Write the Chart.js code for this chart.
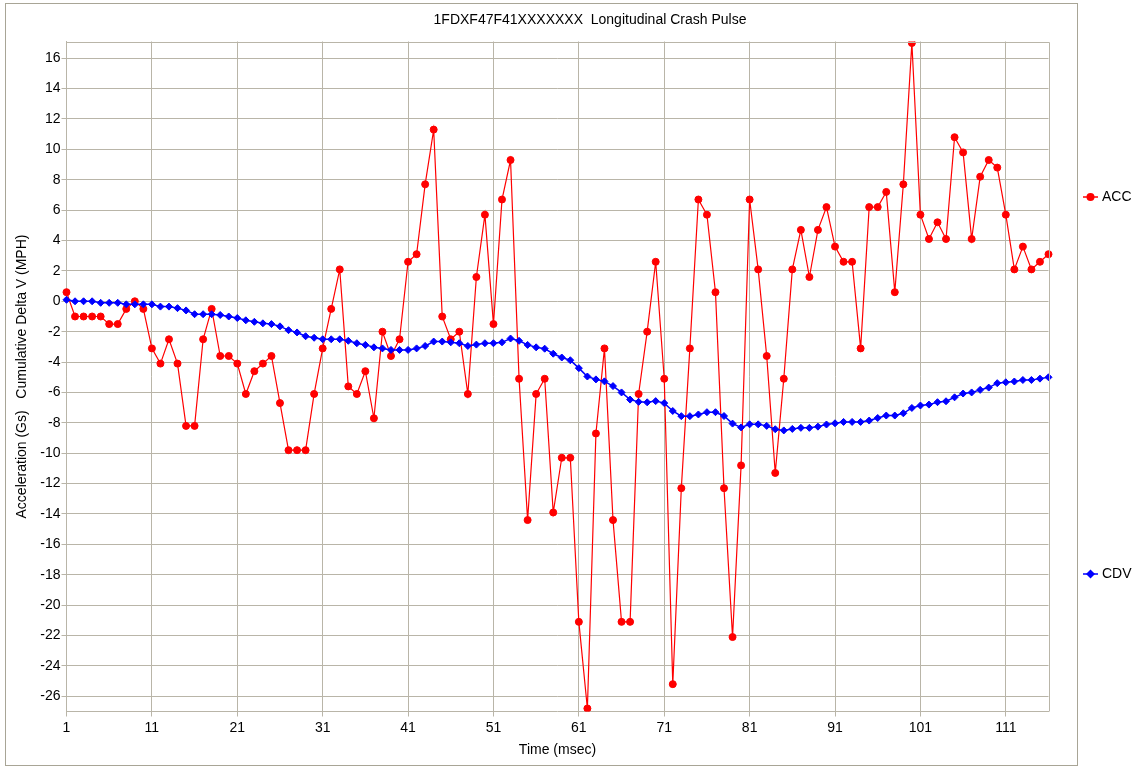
<!DOCTYPE html>
<html>
<head>
<meta charset="utf-8">
<title>Longitudinal Crash Pulse</title>
<script src="https://cdn.jsdelivr.net/npm/chart.js@4.4.1/dist/chart.umd.min.js"></script>
<style>
  html, body { margin: 0; padding: 0; background: #fff; }
  #wrap { width: 1148px; height: 767px; }
</style>
</head>
<body>
<div id="wrap"><canvas id="crash-chart" width="1148" height="767"></canvas></div>
<script>
const chartTitle = '1FDXF47F41XXXXXXX  Longitudinal Crash Pulse';

// time axis (msec)
const times = [
  1, 2, 3, 4, 5, 6, 7, 8, 9, 10, 11, 12, 13, 14, 15, 16, 17, 18, 19, 20,
  21, 22, 23, 24, 25, 26, 27, 28, 29, 30, 31, 32, 33, 34, 35, 36, 37, 38, 39, 40,
  41, 42, 43, 44, 45, 46, 47, 48, 49, 50, 51, 52, 53, 54, 55, 56, 57, 58, 59, 60,
  61, 62, 63, 64, 65, 66, 67, 68, 69, 70, 71, 72, 73, 74, 75, 76, 77, 78, 79, 80,
  81, 82, 83, 84, 85, 86, 87, 88, 89, 90, 91, 92, 93, 94, 95, 96, 97, 98, 99, 100,
  101, 102, 103, 104, 105, 106, 107, 108, 109, 110, 111, 112, 113, 114, 115, 116
];
const xTickLabels = [1, 11, 21, 31, 41, 51, 61, 71, 81, 91, 101, 111];
const yTicks = [-26, -24, -22, -20, -18, -16, -14, -12, -10, -8, -6, -4, -2, 0, 2, 4, 6, 8, 10, 12, 14, 16];

// acceleration (Gs)
const acc = [
  0.6, -1.0, -1.0, -1.0, -1.0, -1.5, -1.5, -0.5, 0.0, -0.5,
  -3.1, -4.1, -2.5, -4.1, -8.2, -8.2, -2.5, -0.5, -3.6, -3.6,
  -4.1, -6.1, -4.6, -4.1, -3.6, -6.7, -9.8, -9.8, -9.8, -6.1,
  -3.1, -0.5, 2.1, -5.6, -6.1, -4.6, -7.7, -2.0, -3.6, -2.5,
  2.6, 3.1, 7.7, 11.3, -1.0, -2.5, -2.0, -6.1, 1.6, 5.7,
  -1.5, 6.7, 9.3, -5.1, -14.4, -6.1, -5.1, -13.9, -10.3, -10.3,
  -21.1, -26.8, -8.7, -3.1, -14.4, -21.1, -21.1, -6.1, -2.0, 2.6,
  -5.1, -25.2, -12.3, -3.1, 6.7, 5.7, 0.6, -12.3, -22.1, -10.8,
  6.7, 2.1, -3.6, -11.3, -5.1, 2.1, 4.7, 1.6, 4.7, 6.2,
  3.6, 2.6, 2.6, -3.1, 6.2, 6.2, 7.2, 0.6, 7.7, 17.0,
  5.7, 4.1, 5.2, 4.1, 10.8, 9.8, 4.1, 8.2, 9.3, 8.8,
  5.7, 2.1, 3.6, 2.1, 2.6, 3.1
];

// cumulative delta V (MPH)
const cdv = [
  0.1, 0.0, 0.0, 0.0, -0.1, -0.1, -0.1, -0.2, -0.2, -0.2,
  -0.2, -0.35, -0.35, -0.45, -0.6, -0.85, -0.85, -0.85, -0.9, -1.0,
  -1.1, -1.25, -1.35, -1.45, -1.5, -1.65, -1.9, -2.05, -2.3, -2.4,
  -2.5, -2.5, -2.5, -2.6, -2.76, -2.87, -3.03, -3.1, -3.2, -3.2,
  -3.2, -3.1, -2.94, -2.65, -2.65, -2.7, -2.76, -2.94, -2.85, -2.76,
  -2.76, -2.7, -2.45, -2.6, -2.87, -3.03, -3.12, -3.45, -3.7, -3.88,
  -4.4, -4.95, -5.14, -5.27, -5.58, -6.0, -6.47, -6.62, -6.65, -6.57,
  -6.7, -7.22, -7.56, -7.56, -7.45, -7.3, -7.3, -7.55, -8.05, -8.3,
  -8.1, -8.1, -8.2, -8.42, -8.5, -8.4, -8.33, -8.33, -8.25, -8.11,
  -8.03, -7.94, -7.94, -7.94, -7.85, -7.68, -7.52, -7.52, -7.37, -7.02,
  -6.86, -6.8, -6.64, -6.58, -6.32, -6.07, -6.0, -5.83, -5.68, -5.39,
  -5.33, -5.28, -5.18, -5.18, -5.09, -5.0
];

const gridColor = '#b9b5a8';
const frameColor = '#a8a596';
const fontFamily = '"Liberation Sans", Arial, sans-serif';

const isLabelled = (i) => xTickLabels.includes(times[i]);

// outer frame, plot border, title and the side legend
const framePlugin = {
  id: 'frame',
  beforeDraw(chart) {
    const ctx = chart.ctx;
    ctx.save();
    ctx.fillStyle = '#fff';
    ctx.fillRect(0, 0, chart.width, chart.height);
    ctx.restore();
  },
  afterDraw(chart) {
    const ctx = chart.ctx;
    const area = chart.chartArea;
    ctx.save();

    ctx.strokeStyle = gridColor;
    ctx.lineWidth = 1;
    ctx.beginPath();
    ctx.moveTo(area.left, Math.round(area.top) + 0.5);
    ctx.lineTo(Math.round(area.right) + 0.5, Math.round(area.top) + 0.5);
    ctx.lineTo(Math.round(area.right) + 0.5, area.bottom);
    ctx.stroke();

    ctx.strokeStyle = frameColor;
    ctx.strokeRect(5.5, 3.5, 1072, 762);

    ctx.fillStyle = '#000';
    ctx.font = '14px ' + fontFamily;
    ctx.textAlign = 'center';
    ctx.textBaseline = 'middle';
    ctx.fillText(chartTitle, 590, 20);

    ctx.textAlign = 'left';
    chart.data.datasets.forEach((ds, i) => {
      const y = i === 0 ? 197 : 574;
      ctx.strokeStyle = ds.borderColor;
      ctx.lineWidth = 1.5;
      ctx.beginPath();
      ctx.moveTo(1083, y);
      ctx.lineTo(1098, y);
      ctx.stroke();
      ctx.fillStyle = ds.borderColor;
      ctx.beginPath();
      if (ds.pointStyle === 'rectRot') {
        ctx.moveTo(1090.5, y - 4.5);
        ctx.lineTo(1095, y);
        ctx.lineTo(1090.5, y + 4.5);
        ctx.lineTo(1086, y);
        ctx.closePath();
      } else {
        ctx.arc(1090.5, y, 4, 0, Math.PI * 2);
      }
      ctx.fill();
      ctx.fillStyle = '#000';
      ctx.fillText(ds.label, 1102, y);
    });
    ctx.restore();
  }
};

new Chart(document.getElementById('crash-chart'), {
  type: 'line',
  data: {
    labels: times,
    datasets: [
      {
        label: 'ACC',
        data: acc,
        borderColor: '#ff0000',
        backgroundColor: '#ff0000',
        borderWidth: 1.2,
        pointStyle: 'circle',
        pointRadius: 3.5,
        pointBorderWidth: 1,
        tension: 0,
        order: 1
      },
      {
        label: 'CDV',
        data: cdv,
        borderColor: '#0000ff',
        backgroundColor: '#0000ff',
        borderWidth: 1.5,
        pointStyle: 'rectRot',
        pointRadius: 3.5,
        pointBorderWidth: 1,
        tension: 0,
        order: 0
      }
    ]
  },
  options: {
    responsive: false,
    animation: false,
    devicePixelRatio: 1,
    layout: {
      padding: { left: 5, top: 41.5, right: 99.5, bottom: 0 }
    },
    plugins: {
      legend: { display: false },
      tooltip: { enabled: false }
    },
    scales: {
      x: {
        type: 'category',
        offset: false,
        afterFit: (scale) => { scale.height = 55.5; },
        grid: {
          color: (c) => isLabelled(c.index) ? gridColor : 'transparent',
          tickColor: (c) => isLabelled(c.index) ? gridColor : 'transparent',
          tickLength: 5,
          lineWidth: 1
        },
        border: { color: gridColor, width: 1 },
        ticks: {
          autoSkip: false,
          maxRotation: 0,
          minRotation: 0,
          padding: 3,
          color: '#000',
          font: { family: fontFamily, size: 14 },
          callback: (val, i) => isLabelled(i) ? String(times[i]) : ''
        },
        title: {
          display: true,
          text: 'Time (msec)',
          color: '#000',
          font: { family: fontFamily, size: 14 },
          padding: { top: 0, bottom: 8 }
        }
      },
      y: {
        min: -27,
        max: 17.1,
        afterFit: (scale) => { scale.width = 61.5; },
        afterBuildTicks: (scale) => { scale.ticks = yTicks.map(v => ({ value: v })); },
        grid: {
          color: gridColor,
          tickColor: gridColor,
          tickLength: 5,
          lineWidth: 1
        },
        border: { color: gridColor, width: 1 },
        ticks: {
          padding: 1,
          color: '#000',
          font: { family: fontFamily, size: 14 }
        },
        title: {
          display: true,
          text: 'Acceleration (Gs)   Cumulative Delta V (MPH)',
          color: '#000',
          font: { family: fontFamily, size: 14 },
          padding: { top: 9, bottom: 0 }
        }
      }
    }
  },
  plugins: [framePlugin]
});
</script>
</body>
</html>
